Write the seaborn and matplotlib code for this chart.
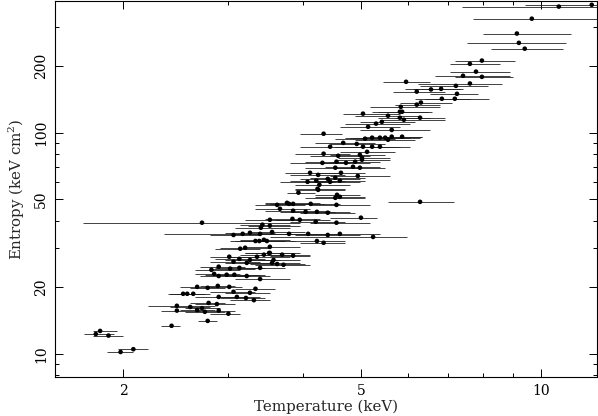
import numpy as np
import pandas as pd
import matplotlib
matplotlib.use("Agg")
import matplotlib.pyplot as plt
import matplotlib.ticker as mticker
import seaborn as sns

# temperature (keV), entropy (keV cm^2), lower / upper end of the T error bar
temp = [12.17, 10.72, 9.66, 9.12, 9.19, 9.40, 7.97, 7.61, 7.79, 7.41,
        7.97, 5.95, 7.61, 7.21, 6.81, 6.55, 6.20, 7.24, 6.83, 7.18,
        6.30, 6.20, 5.83, 5.81, 5.86, 5.04, 5.55, 5.81, 5.90, 6.28,
        5.42, 5.30, 5.14, 5.63, 4.33, 5.08, 5.22, 5.38, 5.49, 5.63,
        5.86, 5.55, 4.67, 4.92, 5.04, 4.44, 5.22, 5.38, 5.12, 4.33,
        4.58, 4.98, 5.02, 4.31, 4.55, 4.89, 5.02, 4.72, 4.53, 4.85,
        4.98, 4.11, 4.24, 4.63, 4.94, 4.07, 4.21, 4.40, 4.53, 4.26,
        4.24, 4.56, 4.61, 4.53, 6.28, 4.12, 4.55, 3.93, 3.76, 3.79,
        3.85, 3.62, 3.66, 3.85, 4.04, 4.22, 4.40, 5.00, 3.52, 3.84,
        3.95, 4.20, 4.55, 3.42, 3.52, 3.40, 3.55, 3.39, 3.79, 4.08,
        4.40, 4.61, 5.24, 3.06, 3.17, 3.26, 3.33, 3.38, 3.44, 3.48,
        4.22, 4.33, 3.14, 3.20, 3.52, 3.52, 2.71, 3.01, 3.06, 3.13,
        3.22, 3.26, 3.35, 3.44, 3.51, 3.57, 3.62, 3.71, 3.69, 3.85,
        3.55, 2.81, 2.84, 2.89, 2.89, 2.98, 3.07, 3.22, 3.02, 3.13,
        3.39, 3.39, 2.52, 2.56, 2.62, 2.66, 2.77, 2.88, 3.01, 2.89,
        3.06, 3.10, 3.21, 3.31, 3.26, 3.33, 2.46, 2.46, 2.59, 2.66,
        2.74, 2.78, 2.87, 2.89, 3.00, 2.71, 2.77, 2.41, 1.83, 1.80,
        1.89, 2.08, 1.98, 4.23, 4.44, 4.61]

entropy = [379, 372, 328, 281, 255, 240, 212, 205, 189, 181,
           179, 170, 167, 163, 158, 157, 153.5, 150, 142.5, 142.5,
           137, 134, 131, 124.5, 124.5, 122, 119.4, 117, 114.5, 117,
           112, 110, 106.4, 103, 99, 94, 95, 95, 95, 96,
           96, 93, 90, 89, 86.5, 86.5, 86.5, 86.5, 82, 80.4,
           78.7, 79.5, 77.1, 73.1, 74.0, 74.0, 75.5, 73.1, 69.5, 70.2,
           69.5, 65.9, 64.5, 65.9, 63.8, 60.0, 60.7, 61.9, 62.6, 58.2,
           55.2, 52.4, 51.3, 50.8, 48.7, 47.7, 47.2, 53.6, 48.2, 47.7,
           47.7, 47.2, 45.3, 44.4, 43.9, 43.9, 43.5, 41.3, 40.4, 40.8,
           40.4, 39.6, 39.2, 38.4, 38.0, 37.2, 35.6, 34.9, 34.9, 34.9,
           34.5, 34.9, 33.8, 34.5, 34.9, 35.3, 32.4, 32.4, 32.8, 32.4,
           32.4, 31.8, 29.9, 30.2, 30.5, 28.6, 39.2, 27.5, 26.1, 26.9,
           25.8, 26.6, 27.5, 28.1, 28.6, 26.6, 25.5, 25.3, 28.1, 27.8,
           25.8, 24.0, 23.0, 24.8, 22.5, 22.8, 22.8, 22.5, 24.3, 24.5,
           21.8, 24.5, 18.7, 18.7, 18.7, 20.1, 19.9, 20.3, 20.1, 18.1,
           19.1, 18.1, 17.9, 17.5, 18.9, 19.7, 16.5, 15.7, 16.3, 15.8,
           15.5, 17.0, 16.8, 15.7, 15.2, 16.1, 14.1, 13.4, 12.7, 12.3,
           12.1, 10.5, 10.2, 55.8, 60.0, 60.7]

temp_lo = [9.40, 7.38, 7.70, 8.00, 7.52, 8.25, 7.18, 7.04, 7.04, 6.65,
           7.18, 5.44, 6.23, 6.28, 6.11, 5.92, 5.66, 6.52, 6.16, 6.40,
           5.81, 5.70, 5.18, 5.22, 5.34, 4.67, 4.89, 5.34, 5.38, 5.70,
           4.98, 4.70, 4.61, 4.98, 3.96, 4.53, 4.70, 4.80, 4.94, 5.08,
           5.48, 4.89, 4.19, 4.44, 4.53, 3.96, 4.70, 4.89, 4.61, 3.88,
           4.11, 4.44, 4.57, 3.81, 4.03, 4.44, 4.53, 4.27, 4.03, 4.36,
           4.53, 3.73, 3.81, 4.19, 4.44, 3.66, 3.81, 3.96, 4.11, 3.88,
           3.88, 4.19, 4.19, 4.03, 5.55, 3.73, 4.11, 3.76, 3.46, 3.46,
           3.52, 3.33, 3.33, 3.46, 3.66, 3.81, 3.96, 4.44, 3.20, 3.46,
           3.59, 3.81, 4.11, 3.14, 3.24, 3.08, 3.26, 3.08, 3.39, 3.66,
           3.88, 3.96, 3.52, 2.80, 2.34, 2.96, 3.02, 3.08, 3.14, 3.14,
           3.81, 3.96, 2.85, 2.91, 3.20, 3.20, 1.71, 2.80, 2.80, 2.85,
           2.96, 2.96, 3.02, 3.14, 3.20, 3.26, 3.26, 3.33, 3.39, 3.52,
           3.20, 2.64, 2.64, 2.69, 2.69, 2.74, 2.85, 2.96, 2.80, 2.85,
           3.08, 3.14, 2.38, 2.40, 2.44, 2.49, 2.59, 2.69, 2.80, 2.64,
           2.80, 2.85, 2.91, 3.02, 2.96, 3.08, 2.20, 2.31, 2.40, 2.49,
           2.54, 2.59, 2.64, 2.64, 2.80, 2.54, 2.67, 2.31, 1.78, 1.72,
           1.78, 1.96, 1.88, 3.88, 4.03, 4.19]

temp_hi = [14.0, 14.0, 13.5, 11.22, 11.01, 10.88, 9.05, 8.54, 8.87, 8.87,
           8.98, 6.52, 8.61, 8.16, 7.41, 7.32, 6.91, 7.85, 7.61, 8.19,
           7.10, 6.78, 6.78, 6.47, 6.57, 5.81, 6.28, 6.52, 6.91, 6.91,
           6.16, 6.04, 5.81, 6.52, 4.65, 5.70, 5.92, 6.04, 6.28, 6.32,
           6.32, 6.16, 5.28, 5.48, 5.70, 4.98, 5.81, 6.04, 5.70, 4.80,
           5.18, 5.48, 5.59, 4.80, 4.98, 5.38, 5.59, 5.18, 4.98, 5.38,
           5.48, 4.61, 4.70, 5.08, 5.59, 4.53, 4.70, 4.98, 5.08, 4.80,
           4.70, 4.98, 5.08, 5.08, 7.15, 4.61, 5.18, 4.19, 4.27, 4.27,
           4.36, 4.03, 4.11, 4.44, 4.53, 4.80, 4.89, 5.32, 3.96, 4.27,
           4.44, 4.70, 5.18, 3.81, 3.96, 3.81, 4.03, 3.81, 4.27, 4.61,
           4.98, 5.38, 5.97, 3.39, 4.44, 3.59, 3.73, 3.73, 3.81, 3.88,
           4.70, 4.70, 3.39, 3.52, 3.96, 3.96, 3.96, 3.33, 3.39, 3.46,
           3.59, 3.66, 3.81, 3.81, 3.88, 3.96, 4.03, 4.11, 4.11, 4.11,
           3.96, 3.14, 3.14, 3.20, 3.26, 3.39, 3.46, 3.52, 3.33, 3.46,
           3.81, 3.73, 2.72, 2.74, 2.80, 2.85, 2.96, 3.08, 3.16, 3.20,
           3.33, 3.39, 3.46, 3.52, 3.52, 3.59, 2.85, 2.69, 2.80, 2.85,
           2.96, 2.96, 3.08, 3.08, 3.14, 2.91, 2.87, 2.49, 1.95, 1.93,
           2.00, 2.20, 2.08, 4.70, 4.98, 5.08]

df = pd.DataFrame({"T": temp, "K": entropy, "lo": temp_lo, "hi": temp_hi})

sns.set_style("ticks")
plt.rcParams["font.family"] = "DejaVu Serif"
plt.rcParams["mathtext.fontset"] = "dejavuserif"

fig = plt.figure(figsize=(5.98, 4.16), dpi=100)
ax = fig.add_axes([0.092, 0.094, 0.906, 0.904])

ax.errorbar(df["T"], df["K"], xerr=[df["T"] - df["lo"], df["hi"] - df["T"]],
            fmt="none", ecolor="#222222", elinewidth=0.6, capsize=0)
sns.scatterplot(data=df, x="T", y="K", ax=ax, color="black", s=11,
                edgecolor="none", zorder=3)

ax.set_xscale("log")
ax.set_yscale("log")
ax.set_xlim(1.538, 12.41)
ax.set_ylim(7.87, 395)

ax.xaxis.set_major_locator(mticker.FixedLocator([2, 5, 10]))
ax.xaxis.set_minor_locator(mticker.FixedLocator([3, 4, 6, 7, 8, 9]))
ax.yaxis.set_major_locator(mticker.FixedLocator([10, 20, 50, 100, 200]))
ax.yaxis.set_minor_locator(mticker.FixedLocator([8, 9, 30, 40, 60, 70, 80, 90, 300]))
ax.xaxis.set_major_formatter(mticker.FormatStrFormatter("%g"))
ax.yaxis.set_major_formatter(mticker.FormatStrFormatter("%g"))
ax.xaxis.set_minor_formatter(mticker.NullFormatter())
ax.yaxis.set_minor_formatter(mticker.NullFormatter())

ax.tick_params(which="both", direction="in", top=True, right=True,
               colors="black", width=0.7)
ax.tick_params(which="major", length=6, labelsize=10, pad=5)
ax.tick_params(which="minor", length=3)
for lab in ax.get_yticklabels():
    lab.set_rotation(90)
    lab.set_va("center")

for sp in ax.spines.values():
    sp.set_linewidth(0.8)
    sp.set_color("black")

ax.set_xlabel("Temperature (keV)", fontsize=10.8, labelpad=1)
ax.set_ylabel(r"Entropy (keV cm$^2$)", fontsize=10.8, labelpad=5)

fig.savefig("out.png", dpi=100)
